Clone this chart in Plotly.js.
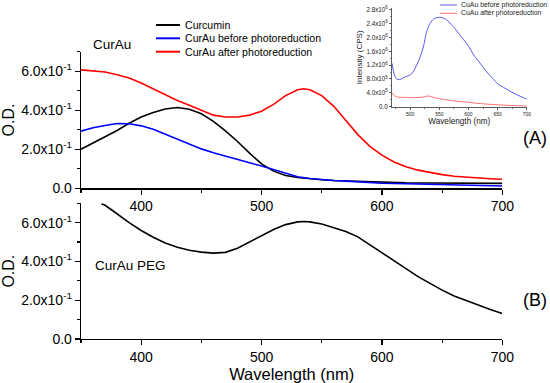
<!DOCTYPE html>
<html>
<head>
<meta charset="utf-8">
<script src="https://cdn.plot.ly/plotly-3.0.1.min.js"></script>
<style>html,body{margin:0;padding:0;background:#fff}#chart{width:550px;height:383px}</style>
</head>
<body>
<div id="chart"></div>
<script>
// ---------- DATA ----------
const seriesNames = ['Curcumin', 'CurAu before photoreduction', 'CurAu after photoreduction'];
const insetNames = ['CuAu before photoreduction', 'CuAu after photoreduction'];

const wlCurcumin = [350,360,370,380,390,400,410,420,430,440,450,460,470,480,490,500,510,520,530,540,550,560,570,580,590,600,620,640,660,680,700];
const odCurcumin = [0.200,0.231,0.262,0.296,0.333,0.365,0.388,0.406,0.414,0.405,0.382,0.343,0.294,0.240,0.180,0.125,0.088,0.066,0.055,0.048,0.044,0.040,0.038,0.035,0.032,0.030,0.028,0.027,0.026,0.025,0.025];

const wlBefore = [350,360,370,380,390,400,410,420,430,440,450,460,470,480,490,500,510,520,530,540,550,560,570,580,590,600,620,640,660,680,700];
const odBefore = [0.293,0.310,0.322,0.332,0.331,0.320,0.303,0.278,0.252,0.227,0.202,0.182,0.164,0.147,0.131,0.114,0.095,0.075,0.059,0.050,0.044,0.040,0.037,0.033,0.029,0.026,0.023,0.021,0.019,0.014,0.012];

const wlAfter = [350,360,370,380,390,400,410,420,430,440,450,460,470,480,490,500,510,520,530,535,540,550,560,570,580,590,600,610,620,630,640,650,660,670,680,690,700];
const odAfter = [0.607,0.603,0.596,0.582,0.565,0.540,0.510,0.478,0.450,0.425,0.398,0.375,0.365,0.365,0.375,0.395,0.430,0.475,0.505,0.510,0.505,0.475,0.420,0.345,0.275,0.215,0.170,0.135,0.110,0.093,0.080,0.070,0.062,0.057,0.053,0.049,0.046];

const wlPEG = [367,370,375,380,390,400,410,420,430,440,450,460,470,480,490,500,510,520,530,535,540,550,560,570,580,590,600,610,620,630,640,650,660,670,680,690,700];
const odPEG = [0.698,0.690,0.668,0.645,0.600,0.560,0.525,0.495,0.473,0.458,0.448,0.443,0.447,0.468,0.500,0.533,0.565,0.590,0.604,0.606,0.604,0.593,0.575,0.555,0.527,0.487,0.445,0.405,0.363,0.322,0.286,0.252,0.222,0.198,0.176,0.152,0.131];

const wlInsetBefore = [469,473,477,481,486,491,496,501,506,511,517,523,528,534,540,546,551,557,563,570,577,591,600,608,617,626,633,640,651,660,670,680,690,700];
const cpsInsetBefore = [1.25e6,0.92e6,0.80e6,0.78e6,0.81e6,0.86e6,0.89e6,0.93e6,1.03e6,1.20e6,1.43e6,1.75e6,2.15e6,2.40e6,2.53e6,2.57e6,2.58e6,2.56e6,2.50e6,2.38e6,2.25e6,1.95e6,1.75e6,1.52e6,1.32e6,1.12e6,0.97e6,0.84e6,0.65e6,0.56e6,0.46e6,0.37e6,0.29e6,0.22e6];

const wlInsetAfter = [469,473,478,490,500,515,525,532,538,550,565,580,600,620,640,660,680,700];
const cpsInsetAfter = [0.40e6,0.32e6,0.28e6,0.27e6,0.265e6,0.265e6,0.29e6,0.31e6,0.28e6,0.23e6,0.19e6,0.16e6,0.125e6,0.09e6,0.065e6,0.045e6,0.03e6,0.02e6];

const odTickVals = [0, 0.2, 0.4, 0.6];
const odTickText = ['0.0', '2.0x10<sup>-1</sup>', '4.0x10<sup>-1</sup>', '6.0x10<sup>-1</sup>'];
const wlTickVals = [400, 500, 600, 700];
const cpsTickVals = [0, 4e5, 8e5, 1.2e6, 1.6e6, 2.0e6, 2.4e6, 2.8e6];
const cpsTickText = ['0.0', '4.0x10<sup>5</sup>', '8.0x10<sup>5</sup>', '1.2x10<sup>6</sup>', '1.6x10<sup>6</sup>', '2.0x10<sup>6</sup>', '2.4x10<sup>6</sup>', '2.8x10<sup>6</sup>'];
const insetWlTickVals = [500, 550, 600, 650, 700];

const panelLabels = ['CurAu', 'CurAu PEG', '(A)', '(B)'];

// ---------- STYLE ----------
const FONT = 'Liberation Sans, Arial, sans-serif';
const mainColors = ['#000000', '#0000ff', '#ff0000'];
const insetColors = ['#5a5af0', '#ff7070'];

const traces = [
  {x: wlCurcumin, y: odCurcumin, xaxis: 'x2', yaxis: 'y2', type: 'scatter', mode: 'lines', name: seriesNames[0], line: {color: mainColors[0], width: 1.6}},
  {x: wlBefore, y: odBefore, xaxis: 'x2', yaxis: 'y2', type: 'scatter', mode: 'lines', name: seriesNames[1], line: {color: mainColors[1], width: 1.6}},
  {x: wlAfter, y: odAfter, xaxis: 'x2', yaxis: 'y2', type: 'scatter', mode: 'lines', name: seriesNames[2], line: {color: mainColors[2], width: 1.6}},
  {x: wlPEG, y: odPEG, xaxis: 'x', yaxis: 'y', type: 'scatter', mode: 'lines', name: 'CurAu PEG', line: {color: '#000000', width: 1.6}},
  {x: wlInsetBefore, y: cpsInsetBefore, xaxis: 'x3', yaxis: 'y3', type: 'scatter', mode: 'lines', name: insetNames[0], line: {color: insetColors[0], width: 1, shape: 'spline'}},
  {x: wlInsetAfter, y: cpsInsetAfter, xaxis: 'x3', yaxis: 'y3', type: 'scatter', mode: 'lines', name: insetNames[1], line: {color: insetColors[1], width: 1, shape: 'spline'}}
];

const L = 81, R = 20, T = 5, B = 44, W = 550, H = 383;
const pw = W - L - R, ph = H - T - B;
const px = v => (v - L) / pw;
const py = v => (H - B - v) / ph;

function mainX(anchor, showTitle) {
  const a = {
    domain: [0, px(502.3)], range: [350, 700], anchor: anchor,
    showline: true, linecolor: '#000', linewidth: 1.3, mirror: false,
    ticks: 'outside', ticklen: 5, tickwidth: 1.2, tickcolor: '#000',
    tickmode: 'array', tickvals: wlTickVals,
    minor: {tickmode: 'linear', tick0: 350, dtick: 50, ticks: 'outside', ticklen: 3, tickwidth: 1.2, tickcolor: '#000', showgrid: false},
    showgrid: false, zeroline: false,
    tickfont: {family: FONT, size: 14, color: '#000'}
  };
  if (showTitle) a.title = {text: 'Wavelength (nm)', font: {family: FONT, size: 16.5, color: '#000'}, standoff: 2};
  return a;
}
function mainY(domain, anchor) {
  return {
    domain: domain, range: [0, 0.7], anchor: anchor,
    showline: true, linecolor: '#000', linewidth: 1.3,
    ticks: 'outside', ticklen: 5, tickwidth: 1.2, tickcolor: '#000',
    tickmode: 'array', tickvals: odTickVals, ticktext: odTickText,
    minor: {tickmode: 'linear', tick0: 0, dtick: 0.1, ticks: 'outside', ticklen: 3, tickwidth: 1.2, tickcolor: '#000', showgrid: false},
    showgrid: false, zeroline: false,
    tickfont: {family: FONT, size: 14, color: '#000'},
    title: {text: 'O.D.', font: {family: FONT, size: 16, color: '#000'}, standoff: 2}
  };
}

const legendShapes = [], legendAnn = [];
const mainRows = [25, 38.3, 51.7];
seriesNames.forEach((n, i) => {
  legendShapes.push({type: 'line', xref: 'paper', yref: 'paper', x0: px(156), x1: px(180), y0: py(mainRows[i]), y1: py(mainRows[i]), line: {color: mainColors[i], width: 2}});
  legendAnn.push({xref: 'paper', yref: 'paper', x: px(183), y: py(mainRows[i]), xanchor: 'left', yanchor: 'middle', text: n, showarrow: false, font: {family: FONT, size: 10.6, color: '#000'}});
});
const insetRows = [5, 13.3];
insetNames.forEach((n, i) => {
  legendShapes.push({type: 'line', xref: 'paper', yref: 'paper', x0: px(440), x1: px(457), y0: py(insetRows[i]), y1: py(insetRows[i]), line: {color: insetColors[i], width: 1}});
  legendAnn.push({xref: 'paper', yref: 'paper', x: px(459), y: py(insetRows[i]), xanchor: 'left', yanchor: 'middle', text: n, showarrow: false, font: {family: FONT, size: 6.9, color: '#222'}});
});

const panelAnn = [
  {xref: 'paper', yref: 'paper', x: px(112.2), y: py(45), text: panelLabels[0], showarrow: false, xanchor: 'center', yanchor: 'middle', font: {family: FONT, size: 13.5, color: '#000'}},
  {xref: 'paper', yref: 'paper', x: px(130.6), y: py(265), text: panelLabels[1], showarrow: false, xanchor: 'center', yanchor: 'middle', font: {family: FONT, size: 13.5, color: '#000'}},
  {xref: 'paper', yref: 'paper', x: px(534.8), y: py(138), text: panelLabels[2], showarrow: false, xanchor: 'center', yanchor: 'middle', font: {family: FONT, size: 18, color: '#000'}},
  {xref: 'paper', yref: 'paper', x: px(534.8), y: py(300), text: panelLabels[3], showarrow: false, xanchor: 'center', yanchor: 'middle', font: {family: FONT, size: 18, color: '#000'}}
];

const layout = {
  width: W, height: H,
  margin: {l: L, r: R, t: T, b: B, pad: 0},
  paper_bgcolor: '#fff', plot_bgcolor: 'rgba(0,0,0,0)',
  showlegend: false,
  font: {family: FONT, color: '#000'},
  xaxis: mainX('y', true),
  yaxis: mainY([0, py(203.3)], 'x'),
  xaxis2: mainX('y2', false),
  yaxis2: mainY([py(188.3), py(51.7)], 'x2'),
  xaxis3: {
    domain: [px(391.8), px(526.8)], range: [468.5, 700], anchor: 'y3',
    showline: true, linecolor: '#333', linewidth: 0.8,
    ticks: 'outside', ticklen: 2, tickwidth: 0.7, tickcolor: '#333',
    tickmode: 'array', tickvals: insetWlTickVals,
    minor: {tickmode: 'linear', tick0: 475, dtick: 25, ticks: 'outside', ticklen: 1.5, tickwidth: 0.7, tickcolor: '#333', showgrid: false},
    showgrid: false, zeroline: false,
    tickfont: {family: FONT, size: 5, color: '#222'},
    title: {text: 'Wavelength (nm)', font: {family: FONT, size: 8.2, color: '#222'}, standoff: 2}
  },
  yaxis3: {
    domain: [py(106.7), py(8)], range: [0, 2.85e6], anchor: 'x3',
    showline: true, linecolor: '#333', linewidth: 0.8,
    ticks: 'outside', ticklen: 2, tickwidth: 0.7, tickcolor: '#333',
    tickmode: 'array', tickvals: cpsTickVals, ticktext: cpsTickText,
    minor: {tickmode: 'linear', tick0: 0, dtick: 2e5, ticks: 'outside', ticklen: 1.2, tickwidth: 0.6, tickcolor: '#333', showgrid: false},
    showgrid: false, zeroline: false,
    tickfont: {family: FONT, size: 6.3, color: '#222'},
    title: {text: 'Intensity (CPS)', font: {family: FONT, size: 8, color: '#222'}, standoff: 2}
  },
  shapes: legendShapes,
  annotations: panelAnn.concat(legendAnn)
};

Plotly.newPlot('chart', traces, layout, {staticPlot: true, displayModeBar: false});
</script>
</body>
</html>
